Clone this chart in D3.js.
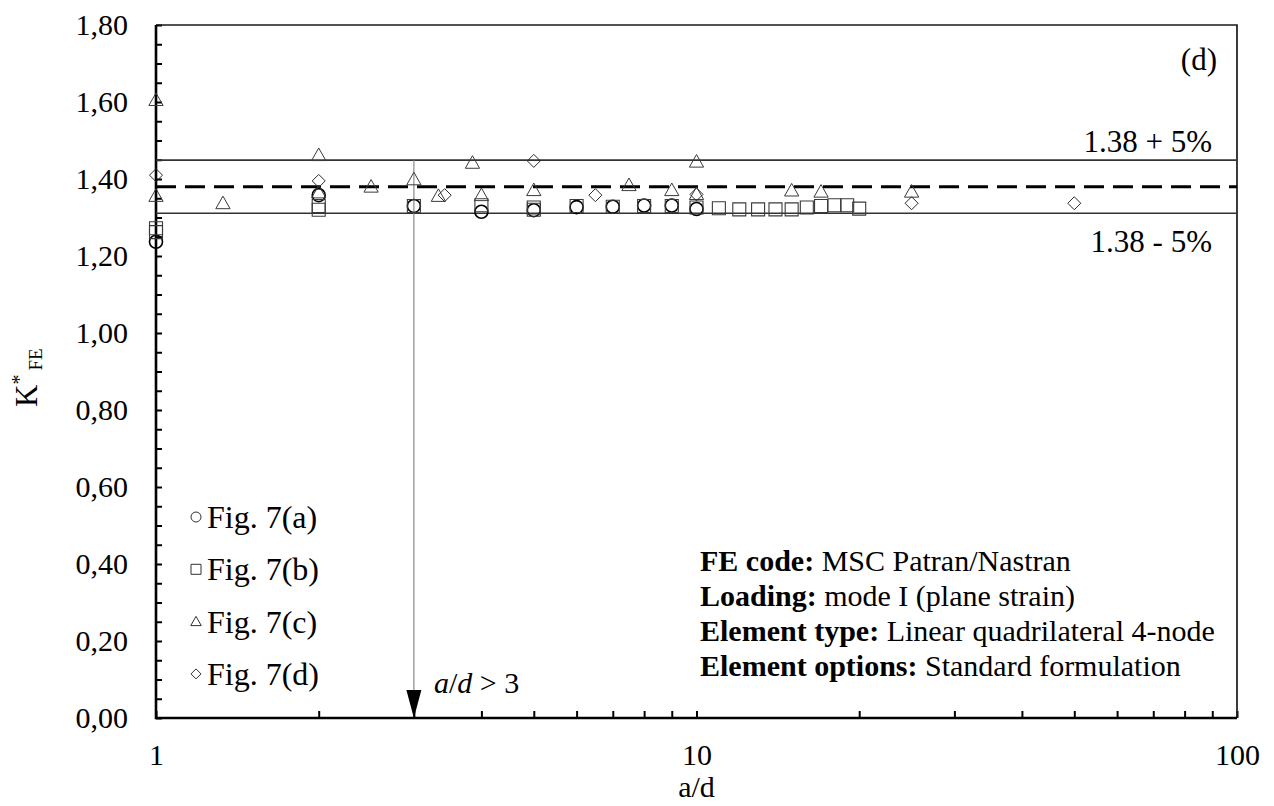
<!DOCTYPE html>
<html>
<head>
<meta charset="utf-8">
<script src="https://cdn.jsdelivr.net/npm/d3@7"></script>
<style>
  body { margin: 0; background: #fff; }
  text { font-family: "Liberation Serif", "Times New Roman", serif; fill: #000; }
</style>
</head>
<body>
<svg id="chart" width="1274" height="806"></svg>
<script>
// [a/d, K*FE] pairs
var fig7a = [[1, 1.237], [2, 1.358], [3, 1.33], [4, 1.315], [5, 1.319], [6, 1.327], [7, 1.328], [8, 1.331], [9, 1.331], [10, 1.322]];
var fig7b = [[1, 1.272], [1, 1.262], [2, 1.33], [2, 1.32], [3, 1.33], [4, 1.332], [5, 1.326], [5, 1.32], [6, 1.33], [7, 1.328], [8, 1.33], [9, 1.33], [10, 1.326],
  [11, 1.324], [12, 1.321], [13, 1.321], [14, 1.321], [15, 1.321], [16, 1.326], [17, 1.33], [18, 1.332], [19, 1.332], [20, 1.323]];
var fig7c = [[1, 1.605], [1, 1.356], [1.33, 1.337], [2, 1.462], [2, 1.365], [2.5, 1.38], [3, 1.399], [3.33, 1.356], [3.85, 1.442], [4, 1.358], [5, 1.371],
  [7.5, 1.384], [9, 1.371], [10, 1.445], [10, 1.361], [15, 1.37], [17, 1.367], [25, 1.367]];
var fig7d = [[1, 1.41], [2, 1.395], [3.42, 1.358], [5, 1.447], [6.5, 1.358], [10, 1.36], [25, 1.337], [50, 1.337]];

var kMean = 1.38;
var bandPct = 0.05;
var yTickLabels = ["0,00", "0,20", "0,40", "0,60", "0,80", "1,00", "1,20", "1,40", "1,60", "1,80"];
var xTickLabels = ["1", "10", "100"];
var legendLabels = ["Fig. 7(a)", "Fig. 7(b)", "Fig. 7(c)", "Fig. 7(d)"];
var infoLines = [["FE code:", " MSC Patran/Nastran"], ["Loading:", " mode I (plane strain)"],
  ["Element type:", " Linear quadrilateral 4-node"], ["Element options:", " Standard formulation"]];
var arrowAt = 3;

var plotLeft = 156, plotRight = 1237, plotTop = 25, plotBottom = 718;
var svg = d3.select('#chart');

var x = d3.scaleLog().domain([1, 100]).range([plotLeft, plotRight]);
var y = d3.scaleLinear().domain([0, 1.8]).range([plotBottom, plotTop]);

// marker shapes, centred on 0,0
var shapes = {
  circle: function(s) { return 'M' + s + ',0A' + s + ',' + s + ' 0 1,1 ' + (-s) + ',0A' + s + ',' + s + ' 0 1,1 ' + s + ',0Z'; },
  square: function(s) { return 'M' + (-s) + ',' + (-s) + 'H' + s + 'V' + s + 'H' + (-s) + 'Z'; },
  triangle: function(s) { return 'M0,' + (-s * 1.05) + 'L' + s * 1.05 + ',' + s * 0.8 + 'L' + (-s * 1.05) + ',' + s * 0.8 + 'Z'; },
  diamond: function(s) { return 'M0,' + (-s) + 'L' + s + ',0L0,' + s + 'L' + (-s) + ',0Z'; }
};
var series = [
  {data: fig7a, shape: 'circle', size: 6.5, stroke: '#000', sw: 1.6},
  {data: fig7b, shape: 'square', size: 6.5, stroke: '#3a3a3a', sw: 1.1},
  {data: fig7c, shape: 'triangle', size: 6.8, stroke: '#3a3a3a', sw: 1},
  {data: fig7d, shape: 'diamond', size: 6.5, stroke: '#2a2a2a', sw: 1}
];

// y axis: minor ticks every 0.05, labels every 0.2
svg.append('g').attr('transform', 'translate(' + plotLeft + ',0)')
  .call(d3.axisLeft(y).tickValues(d3.range(0, 37).map(function(i) { return i * 0.05; })).tickSizeInner(-6).tickSizeOuter(0).tickFormat(''))
  .call(function(g) { g.select('.domain').remove(); g.selectAll('line').attr('stroke', '#000').attr('stroke-width', 2); });
svg.append('g').attr('transform', 'translate(' + plotLeft + ',0)')
  .call(d3.axisLeft(y).tickValues(d3.range(0, 10).map(function(i) { return i * 0.2; })).tickSize(0).tickPadding(28)
    .tickFormat(function(d, i) { return yTickLabels[i]; }))
  .call(function(g) { g.select('.domain').remove(); g.selectAll('text').style('font-size', '30px').attr('font-family', null); });

// x axis: log ticks pointing inward
var xTicks = [];
[1, 10].forEach(function(dec) { for (var k = 1; k < 10; k++) xTicks.push(dec * k); });
xTicks.push(100);
svg.append('g').attr('transform', 'translate(0,' + plotBottom + ')')
  .call(d3.axisBottom(x).tickValues(xTicks).tickSizeInner(-7).tickSizeOuter(0).tickPadding(26)
    .tickFormat(function(d) { var i = [1, 10, 100].indexOf(d); return i < 0 ? '' : xTickLabels[i]; }))
  .call(function(g) { g.select('.domain').remove(); g.selectAll('line').attr('stroke', '#000').attr('stroke-width', 2); g.selectAll('text').style('font-size', '30px').attr('font-family', null); });

// frame
svg.append('path').attr('d', 'M' + plotLeft + ',' + plotTop + 'H' + plotRight + 'V' + plotBottom)
  .attr('fill', 'none').attr('stroke', '#1a1a1a').attr('stroke-width', 1.7);
svg.append('path').attr('d', 'M' + plotLeft + ',' + plotTop + 'V' + plotBottom + 'H' + plotRight)
  .attr('fill', 'none').attr('stroke', '#000').attr('stroke-width', 2.6);

// +/-5% band and mean
var hi = kMean * (1 + bandPct), lo = kMean * (1 - bandPct);
[hi, lo].forEach(function(v) {
  svg.append('line').attr('x1', plotLeft).attr('x2', plotRight).attr('y1', y(v)).attr('y2', y(v))
    .attr('stroke', '#333').attr('stroke-width', 1.6);
});
svg.append('line').attr('x1', plotLeft).attr('x2', plotRight).attr('y1', y(kMean)).attr('y2', y(kMean))
  .attr('stroke', '#000').attr('stroke-width', 3).attr('stroke-dasharray', '20,9');

// a/d > 3 arrow
svg.append('line').attr('x1', x(arrowAt)).attr('x2', x(arrowAt)).attr('y1', y(hi)).attr('y2', y(0) - 26)
  .attr('stroke', '#8a8a8a').attr('stroke-width', 1.2);
svg.append('path').attr('d', 'M' + (x(arrowAt) - 7.5) + ',' + (y(0) - 28) + 'L' + (x(arrowAt) + 7.5) + ',' + (y(0) - 28) + 'L' + x(arrowAt) + ',' + y(0) + 'Z')
  .attr('fill', '#000');
svg.append('text').attr('x', x(arrowAt) + 20).attr('y', y(0) - 25).style('font-size', '30px')
  .html('<tspan font-style="italic">a</tspan>/<tspan font-style="italic">d</tspan> &gt; 3');

// markers
series.forEach(function(s) {
  svg.append('g').selectAll('path').data(s.data).enter().append('path')
    .attr('transform', function(d) { return 'translate(' + x(d[0]) + ',' + y(d[1]) + ')'; })
    .attr('d', shapes[s.shape](s.size))
    .attr('fill', 'none').attr('stroke', s.stroke).attr('stroke-width', s.sw);
});

// band labels and panel letter
svg.append('text').attr('x', plotRight - 25).attr('y', y(hi) - 8).attr('text-anchor', 'end').style('font-size', '31px').text('1.38 + 5%');
svg.append('text').attr('x', plotRight - 25).attr('y', y(lo) + 39).attr('text-anchor', 'end').style('font-size', '31px').text('1.38 - 5%');
svg.append('text').attr('x', plotRight - 20).attr('y', 70).attr('text-anchor', 'end').style('font-size', '31px').text('(d)');

// legend
var legend = svg.append('g').selectAll('g').data(series).enter().append('g')
  .attr('transform', function(d, i) { return 'translate(196,' + (517 + i * 52.3) + ')'; });
legend.append('path').attr('d', function(d) { return shapes[d.shape](5); })
  .attr('fill', 'none').attr('stroke', '#333').attr('stroke-width', 1);
legend.append('text').attr('x', 11).attr('y', 11).style('font-size', '32px').text(function(d, i) { return legendLabels[i]; });

// info block
var info = svg.append('g').selectAll('text').data(infoLines).enter().append('text')
  .attr('x', 700).attr('y', function(d, i) { return 571 + i * 35; }).style('font-size', '30px');
info.append('tspan').attr('font-weight', 'bold').text(function(d) { return d[0]; });
info.append('tspan').attr('xml:space', 'preserve').text(function(d) { return d[1]; });

// axis titles
svg.append('text').attr('x', (plotLeft + plotRight) / 2).attr('y', 797).attr('text-anchor', 'middle').style('font-size', '30px').text('a/d');
var yt = svg.append('text').attr('transform', 'translate(37,407) rotate(-90)').style('font-size', '31px');
yt.append('tspan').text('K');
yt.append('tspan').attr('dy', -11).style('font-size', '20px').text('*');
yt.append('tspan').attr('dy', 16).attr('dx', 4).style('font-size', '19px').text('FE');
</script>
</body>
</html>
